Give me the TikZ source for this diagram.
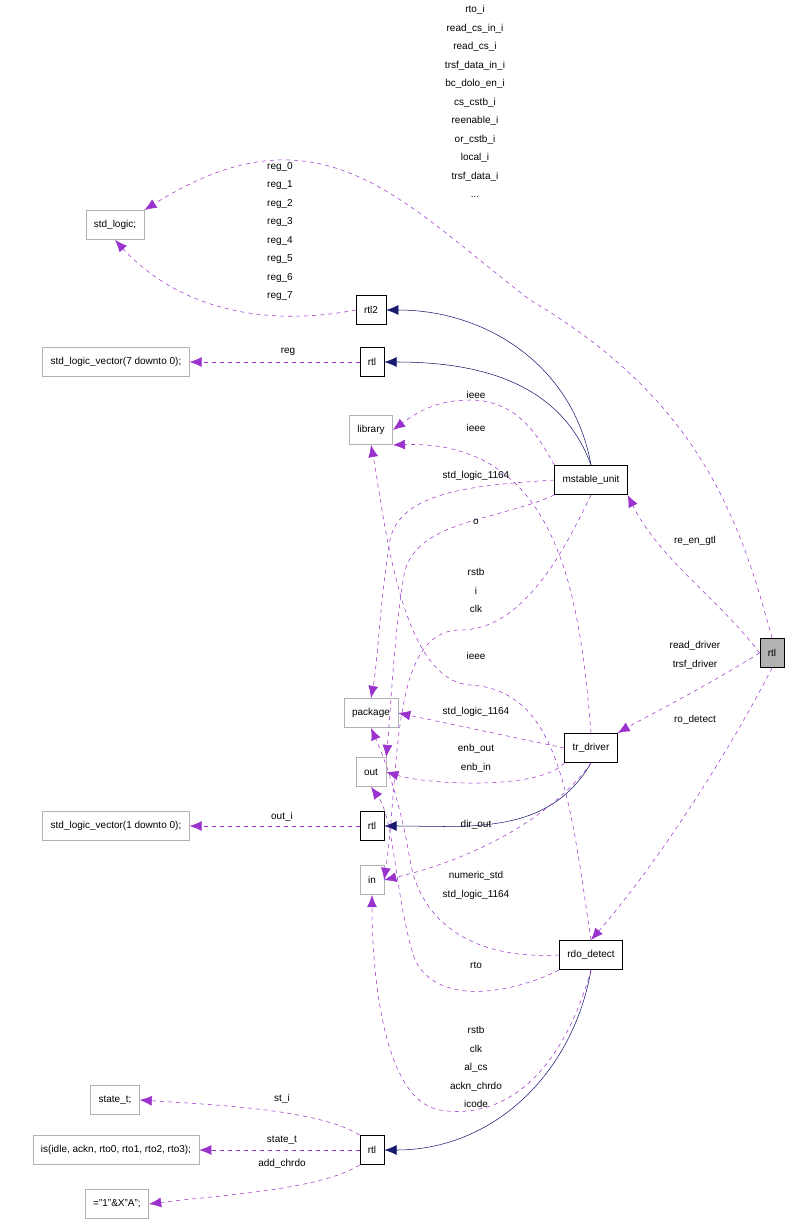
\documentclass[tikz,border=0pt]{standalone}
\usepackage{fontspec}
\setmainfont{Liberation Sans}
\usetikzlibrary{arrows.meta}
\definecolor{usecol}{HTML}{9A32CD}
\definecolor{inhcol}{HTML}{191970}
\tikzset{>={Latex[width=2.6mm,length=3.2mm]},
  cls/.style = {
    rectangle, draw=black, fill=white, minimum height=22pt, inner xsep=6pt,
    font=\fontsize{7.5}{9}\selectfont
  },
  ext/.style = {cls, draw=gray!60},
  main/.style = {cls, fill=gray!60},
  uses/.style = {->, dashed, usecol, thin},
  inh/.style = {->, inhcol, thin},
  lbl/.style = {align=center, font=\fontsize{7.5}{13.9}\selectfont, inner sep=0pt},
}
\begin{document}
\begin{tikzpicture}[x=0.75pt, y=-0.75pt]
  \useasboundingbox (0,0) rectangle (797,1224);
  % classes
  \node (top) [main] at (772,653) {rtl};
  \node (slog) [ext] at (115,225) {std\_logic;};
  \node (rtltwo) [cls] at (371,310) {rtl2};
  \node (slv7) [ext] at (116,362) {std\_logic\_vector(7 downto 0);};
  \node (rtla) [cls] at (372,362) {rtl};
  \node (lib) [ext] at (371,430) {library};
  \node (mst) [cls] at (591,480) {mstable\_unit};
  \node (pkg) [ext] at (371,713) {package};
  \node (trd) [cls] at (591,748) {tr\_driver};
  \node (out) [ext] at (371,772) {out};
  \node (slv1) [ext] at (116,826) {std\_logic\_vector(1 downto 0);};
  \node (rtlb) [cls] at (372,826) {rtl};
  \node (in) [ext] at (372,880) {in};
  \node (rdo) [cls] at (591,955) {rdo\_detect};
  \node (st) [ext] at (115,1100) {state\_t;};
  \node (isx) [ext] at (116,1150) {is(idle, ackn, rto0, rto1, rto2, rto3);};
  \node (rtlc) [cls] at (372,1150) {rtl};
  \node (cst) [ext] at (117,1204) {="1"\&X"A";};
  % inheritance
  \draw[inh] (mst.north) to[out=100, in=0] (rtltwo.east);
  \draw[inh] (mst.north) to[out=110, in=0] (rtla.east);
  \draw[inh] (trd.south) to[out=-120, in=0] (rtlb.east);
  \draw[inh] (rdo.south) to[out=-100, in=0] (rtlc.east);
  % usage
  \draw[uses] (top.north) .. controls (740,520) and (700,400) .. (530,300)
    .. controls (400,200) and (320,100) .. (slog.north east);
  \draw[uses] (rtltwo.west) .. controls (250,330) and (170,300) .. (slog.south);
  \draw[uses] (rtla.west) -- (slv7.east);
  \draw[uses] (mst.north west) .. controls (540,440) and (520,400) .. (470,400)
    .. controls (440,400) and (420,410) .. (lib.east);
  \draw[uses] (trd.north) .. controls (580,600) and (560,440) .. (lib.south east);
  \draw[uses] (mst.west) .. controls (480,485) and (400,490) .. (390,540)
    .. controls (380,600) and (378,660) .. (pkg.north);
  \draw[uses] (mst.south west) .. controls (500,520) and (420,520) .. (405,570)
    .. controls (395,620) and (390,720) .. (out.north east);
  \draw[uses] (mst.south) .. controls (560,560) and (520,630) .. (460,630)
    .. controls (390,630) and (400,770) .. (in.east);
  \draw[uses] (rdo.north) .. controls (570,800) and (560,690) .. (470,685)
    .. controls (400,680) and (385,520) .. (lib.south);
  \draw[uses] (top.west) .. controls (720,600) and (660,560) .. (mst.south east);
  \draw[uses] (top.west) .. controls (700,690) and (640,720) .. (trd.north east);
  \draw[uses] (top.south) .. controls (730,750) and (660,860) .. (rdo.north);
  \draw[uses] (trd.west) -- (pkg.east);
  \draw[uses] (trd.south west) .. controls (540,790) and (430,785) .. (out.east);
  \draw[uses] (trd.south) .. controls (550,820) and (470,860) .. (in.east);
  \draw[uses] (rdo.west) .. controls (470,960) and (420,920) .. (410,860)
    .. controls (400,800) and (385,760) .. (pkg.south);
  \draw[uses] (rdo.south west) .. controls (520,990) and (440,1010) .. (415,960)
    .. controls (395,900) and (395,820) .. (out.south);
  \draw[uses] (rdo.south) .. controls (560,1080) and (500,1120) .. (440,1110)
    .. controls (380,1100) and (372,960) .. (in.south);
  \draw[uses] (rtlc.north west) .. controls (320,1110) and (220,1105) .. (st.east);
  \draw[uses] (rtlc.west) -- (isx.east);
  \draw[uses] (rtlc.south west) .. controls (320,1190) and (220,1195) .. (cst.east);
  \draw[uses] (rtlb.west) -- (slv1.east);
  % labels
  \node (l_top) [lbl, anchor=north] at (475,5) {rto\_i\\read\_cs\_in\_i\\read\_cs\_i\\trsf\_data\_in\_i\\bc\_dolo\_en\_i\\cs\_cstb\_i\\reenable\_i\\or\_cstb\_i\\local\_i\\trsf\_data\_i\\...};
  \node (l_reg) [lbl, anchor=north] at (280,162) {reg\_0\\reg\_1\\reg\_2\\reg\_3\\reg\_4\\reg\_5\\reg\_6\\reg\_7};
  \node (l_r) [lbl] at (288,352) {reg};
  \node (l_i1) [lbl] at (476,395) {ieee};
  \node (l_i2) [lbl] at (476,428) {ieee};
  \node (l_s1) [lbl] at (476,476) {std\_logic\_1164};
  \node (l_o) [lbl] at (476,522) {o};
  \node (l_clk) [lbl, anchor=north] at (476,568) {rstb\\i\\clk};
  \node (l_i3) [lbl] at (476,656) {ieee};
  \node (l_re) [lbl] at (695,541) {re\_en\_gtl};
  \node (l_rd) [lbl, anchor=north] at (695,641) {read\_driver\\trsf\_driver};
  \node (l_ro) [lbl] at (695,720) {ro\_detect};
  \node (l_s2) [lbl] at (476,712) {std\_logic\_1164};
  \node (l_enb) [lbl, anchor=north] at (476,744) {enb\_out\\enb\_in};
  \node (l_dir) [lbl] at (476,825) {dir\_out};
  \node (l_num) [lbl, anchor=north] at (476,871) {numeric\_std\\std\_logic\_1164};
  \node (l_rto) [lbl] at (476,965) {rto};
  \node (l_ack) [lbl, anchor=north] at (476,1026) {rstb\\clk\\al\_cs\\ackn\_chrdo\\icode};
  \node (l_st) [lbl] at (282,1099) {st\_i};
  \node (l_stt) [lbl] at (282,1140) {state\_t};
  \node (l_add) [lbl] at (282,1164) {add\_chrdo};
  \node (l_oi) [lbl] at (282,817) {out\_i};
\end{tikzpicture}
\end{document}
